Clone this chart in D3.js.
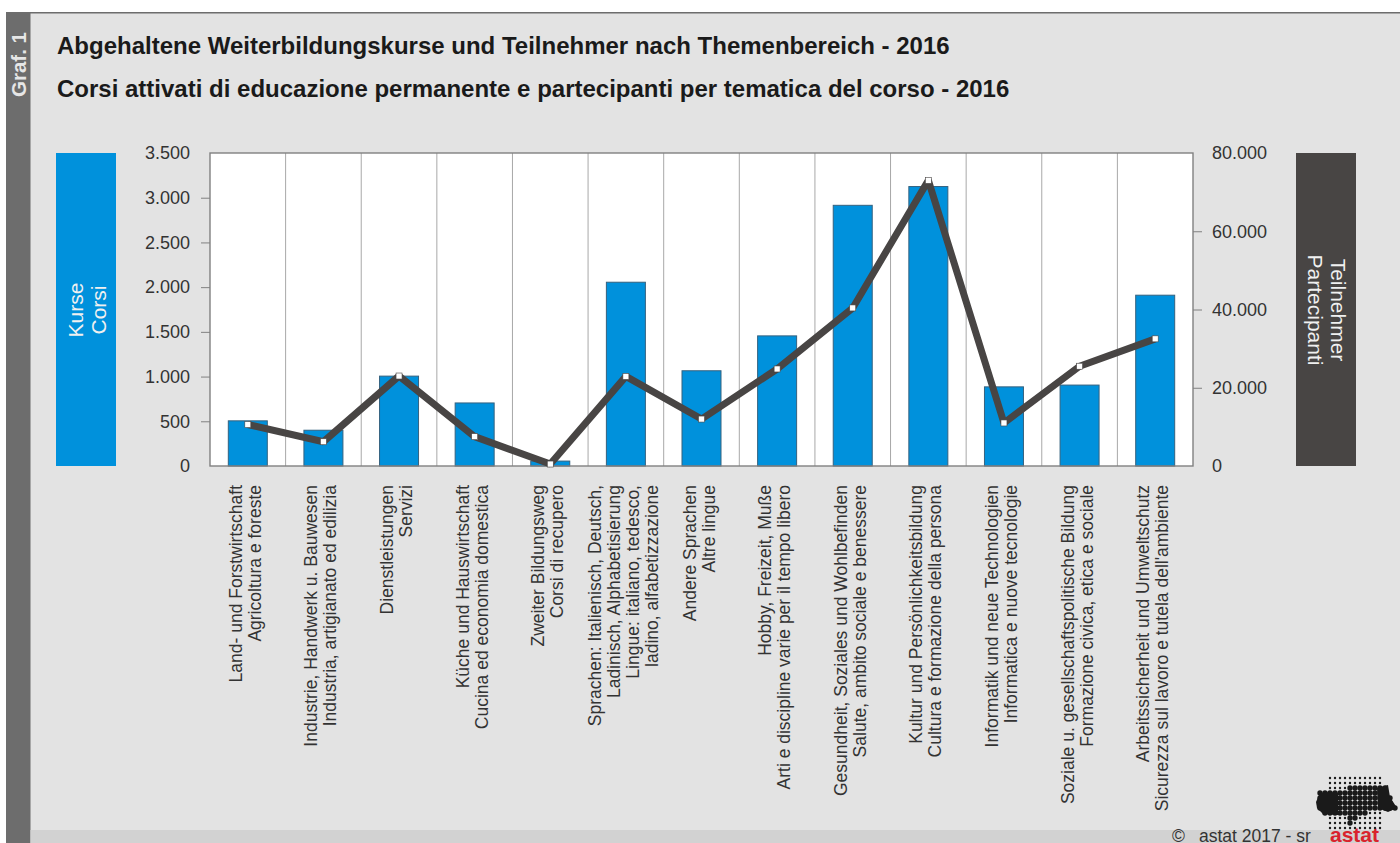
<!DOCTYPE html>
<html>
<head>
<meta charset="utf-8">
<script src="https://cdn.jsdelivr.net/npm/d3@7"></script>
<style>
  html, body { margin: 0; padding: 0; background: #fff; overflow: hidden; }
  text { font-family: "Liberation Sans", Arial, sans-serif; }
</style>
</head>
<body>
<div class="canvas"></div>
<script>
const titles = [
  "Abgehaltene Weiterbildungskurse und Teilnehmer nach Themenbereich - 2016",
  "Corsi attivati di educazione permanente e partecipanti per tematica del corso - 2016"
];
const categories = [
  ["Land- und Forstwirtschaft", "Agricoltura e foreste"],
  ["Industrie, Handwerk u. Bauwesen", "Industria, artigianato ed edilizia"],
  ["Dienstleistungen", "Servizi"],
  ["Küche und Hauswirtschaft", "Cucina ed economia domestica"],
  ["Zweiter Bildungsweg", "Corsi di recupero"],
  ["Sprachen: Italienisch, Deutsch,", "Ladinisch, Alphabetisierung", "Lingue: italiano, tedesco,", "ladino, alfabetizzazione"],
  ["Andere Sprachen", "Altre lingue"],
  ["Hobby, Freizeit, Muße", "Arti e discipline varie per il tempo libero"],
  ["Gesundheit, Soziales und Wohlbefinden", "Salute, ambito sociale e benessere"],
  ["Kultur und Persönlichkeitsbildung", "Cultura e formazione della persona"],
  ["Informatik und neue Technologien", "Informatica e nuove tecnologie"],
  ["Soziale u. gesellschaftspolitische Bildung", "Formazione civica, etica e sociale"],
  ["Arbeitssicherheit und Umweltschutz", "Sicurezza sul lavoro e tutela dell'ambiente"]
];
const kurse = [505, 400, 1005, 705, 55, 2055, 1065, 1455, 2915, 3125, 885, 905, 1910];
const teilnehmer = [10600, 6200, 23000, 7500, 500, 22900, 12000, 24800, 40400, 73000, 11000, 25500, 32500];
const leftTicks = [0, 500, 1000, 1500, 2000, 2500, 3000, 3500];
const rightTicks = [0, 20000, 40000, 60000, 80000];

const width = 1400;
const height = 843;
const margin = ({ top: 153, right: 207, bottom: 377, left: 210 });
const blue = "#0091dc";
const dark = "#484544";
const tickGrey = "#808080";
const textColor = "#333";

const fmt = d => d3.format(",")(d).replace(/,/g, ".");

const svg = d3.select(".canvas").append("svg")
  .attr("width", width)
  .attr("height", height)
  .attr("viewBox", [0, 0, width, height])
  .style("display", "block");

// panel
svg.append("rect").attr("x", 6).attr("y", 13).attr("width", width - 6).attr("height", height - 13).attr("fill", "#e3e3e3");
svg.append("rect").attr("x", 6).attr("y", 12).attr("width", width - 6).attr("height", 1.5).attr("fill", "#6d6d6d");
svg.append("rect").attr("x", 6).attr("y", 13).attr("width", 24.5).attr("height", height - 13).attr("fill", "#6d6d6d");
svg.append("rect").attr("x", 30.5).attr("y", 830).attr("width", width - 30.5).attr("height", 13).attr("fill", "#d2d2d2");

svg.append("text")
  .attr("transform", "translate(26,97) rotate(-90)")
  .attr("font-size", 20.5).attr("font-weight", "bold").attr("fill", "#e6e6e6")
  .text("Graf. 1");

svg.selectAll(".title")
  .data(titles)
  .join("text")
  .attr("class", "title")
  .attr("x", 57)
  .attr("y", (d, i) => 54 + i * 43)
  .attr("font-size", 24)
  .attr("font-weight", "bold")
  .attr("fill", "#1a1a1a")
  .text(d => d);

// scales
const x = d3.scaleBand()
  .domain(d3.range(categories.length))
  .range([margin.left, width - margin.right]);
const yLeft = d3.scaleLinear().domain([0, 3500]).range([height - margin.bottom, margin.top]);
const yRight = d3.scaleLinear().domain([0, 80000]).range([height - margin.bottom, margin.top]);
const barWidth = 39;

// plot
svg.append("rect")
  .attr("x", margin.left).attr("y", margin.top)
  .attr("width", width - margin.left - margin.right)
  .attr("height", height - margin.top - margin.bottom)
  .attr("fill", "#fff");

svg.selectAll(".sep")
  .data(d3.range(1, categories.length))
  .join("line")
  .attr("class", "sep")
  .attr("x1", d => x(d)).attr("x2", d => x(d))
  .attr("y1", margin.top).attr("y2", height - margin.bottom)
  .attr("stroke", "#a8a8a8").attr("stroke-width", 1);

svg.selectAll(".bar")
  .data(kurse)
  .join("rect")
  .attr("class", "bar")
  .attr("x", (d, i) => x(i) + x.bandwidth() / 2 - barWidth / 2)
  .attr("y", d => yLeft(d))
  .attr("width", barWidth)
  .attr("height", d => yLeft(0) - yLeft(d))
  .attr("fill", blue)
  .attr("stroke", "#35627f").attr("stroke-width", 1);

svg.append("rect")
  .attr("x", margin.left).attr("y", margin.top)
  .attr("width", width - margin.left - margin.right)
  .attr("height", height - margin.top - margin.bottom)
  .attr("fill", "none").attr("stroke", tickGrey).attr("stroke-width", 1.4);

// axes
const axisLeft = d3.axisLeft(yLeft).tickValues(leftTicks).tickFormat(fmt).tickSize(9).tickPadding(11);
const axisRight = d3.axisRight(yRight).tickValues(rightTicks).tickFormat(fmt).tickSize(9).tickPadding(10);
[[axisLeft, margin.left, leftTicks], [axisRight, width - margin.right, rightTicks]].forEach(([a, tx, vals]) => {
  const g = svg.append("g").attr("transform", `translate(${tx},0)`).call(a);
  g.select(".domain").remove();
  // first and last tick have a label only, no tick mark
  g.selectAll(".tick line")
    .attr("stroke", tickGrey).attr("stroke-width", 1)
    .attr("display", d => (d === vals[0] || d === vals[vals.length - 1]) ? "none" : null);
  g.selectAll("text").attr("font-size", 18).attr("fill", textColor)
    .style("font-family", '"Liberation Sans", Arial, sans-serif');
});

// line
const line = d3.line().x((d, i) => x(i) + x.bandwidth() / 2).y(d => yRight(d));
svg.append("path")
  .datum(teilnehmer)
  .attr("d", line)
  .attr("fill", "none")
  .attr("stroke", dark)
  .attr("stroke-width", 7)
  .attr("stroke-linejoin", "bevel");

svg.selectAll(".pt")
  .data(teilnehmer)
  .join("rect")
  .attr("class", "pt")
  .attr("x", (d, i) => x(i) + x.bandwidth() / 2 - 3)
  .attr("y", d => yRight(d) - 3)
  .attr("width", 6).attr("height", 6)
  .attr("fill", "#fff").attr("stroke", dark).attr("stroke-width", 0.6);

// category labels
const labels = svg.selectAll(".cat")
  .data(categories)
  .join("g")
  .attr("class", "cat")
  .attr("transform", (d, i) => `translate(${x(i) + x.bandwidth() / 2},485)`);

labels.selectAll("text")
  .data(d => d.map((t, j) => ({ t, off: (j - (d.length - 1) / 2) * 19 })))
  .join("text")
  .attr("transform", d => `translate(${d.off + 3.5},0) rotate(-90)`)
  .attr("text-anchor", "end")
  .attr("font-size", 17.5)
  .attr("fill", textColor)
  .text(d => d.t);

// side boxes
const sideBox = (bx, fill, lines, baselines, rot) => {
  svg.append("rect").attr("x", bx).attr("y", 153).attr("width", 60).attr("height", 313).attr("fill", fill);
  svg.selectAll(null)
    .data(lines)
    .join("text")
    .attr("transform", (d, i) => `translate(${baselines[i]},310) rotate(${rot})`)
    .attr("text-anchor", "middle")
    .attr("font-size", 21)
    .attr("fill", "#f0f0f0")
    .text(d => d);
};
sideBox(56, blue, ["Kurse", "Corsi"], [83, 106], -90);
sideBox(1296, dark, ["Teilnehmer", "Partecipanti"], [1331, 1308], 90);

// footer
svg.append("text").attr("x", 1172).attr("y", 842).attr("font-size", 17.5).attr("fill", "#333").text("©");
svg.append("text").attr("x", 1199).attr("y", 842).attr("font-size", 17.5).attr("fill", "#333").text("astat 2017 - sr");
svg.append("text")
  .attr("x", 1330).attr("y", 842)
  .attr("font-size", 21).attr("font-weight", "bold").attr("fill", "#d9232d")
  .text("astat");

// logo: small dot grid, larger dots inside the province outline
const logo = svg.append("g");
const outline = [[1316, 802], [1320, 793], [1330, 792], [1340, 793], [1347, 788], [1377, 788], [1388, 785], [1390, 797],
  [1397, 808], [1388, 812], [1377, 808], [1367, 815], [1357, 818], [1353, 828], [1348, 828], [1347, 818], [1337, 816],
  [1323, 814], [1317, 808]];
const west = [[1316, 802], [1320, 793], [1330, 792], [1338, 793], [1338, 815], [1323, 814], [1317, 808]];
const east = [[1377, 788], [1388, 785], [1390, 797], [1397, 808], [1388, 812], [1378, 808]];
const gx = d3.range(1315, 1399, 5);
const gy = d3.range(778, 830, 5);
const dots = d3.cross(gx, gy).map(([px, py]) => ({ px, py, inside: d3.polygonContains(outline, [px, py]) }))
  .filter(d => d.inside || (d.px >= 1330 && d.px <= 1380));
logo.selectAll("circle")
  .data(dots)
  .join("circle")
  .attr("cx", d => d.px).attr("cy", d => d.py)
  .attr("r", d => d.inside ? 2.7 : 1.2)
  .attr("fill", "#1a1a1a");
logo.selectAll("path")
  .data([west, east])
  .join("path")
  .attr("d", d => "M" + d.join("L") + "Z")
  .attr("fill", "#1a1a1a");
</script>
</body>
</html>
